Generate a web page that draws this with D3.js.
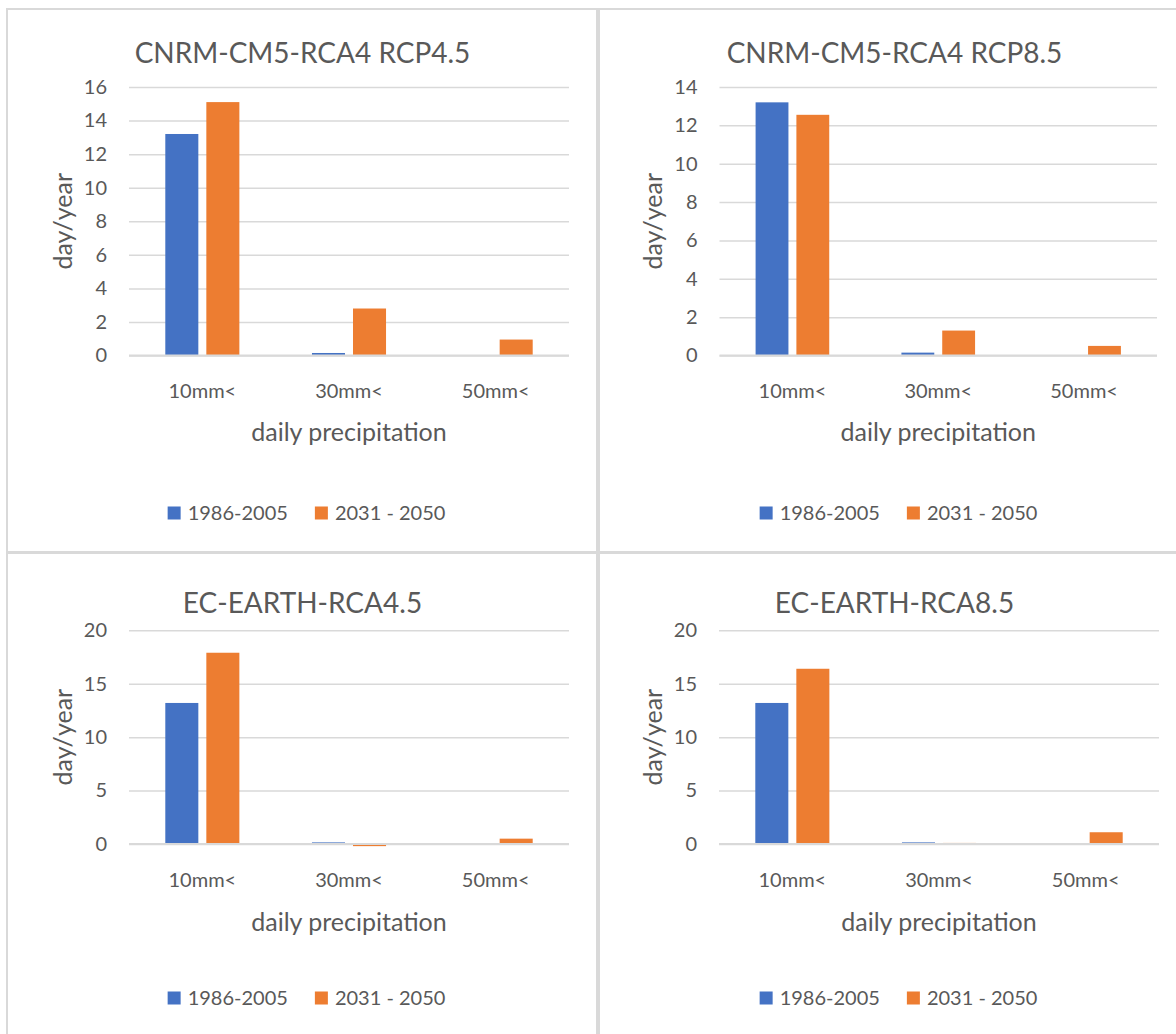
<!DOCTYPE html>
<html>
<head>
<meta charset="utf-8">
<script src="https://cdn.jsdelivr.net/npm/d3@7/dist/d3.min.js"></script>
<style>
  html, body { margin: 0; padding: 0; background: #fff; }
  svg text { font-family: Lato, "Open Sans", sans-serif; fill: #595959; }
</style>
</head>
<body>
<svg id="chart" width="1176" height="1034"></svg>
<script>
// Rainy-day frequency (days per year above each daily-precipitation threshold)
const categories = ["10mm<", "30mm<", "50mm<"];
const seriesNames = ["1986-2005", "2031 - 2050"];
const seriesColors = ["#4472C4", "#ED7D31"];

const titles = ["CNRM-CM5-RCA4 RCP4.5", "CNRM-CM5-RCA4 RCP8.5", "EC-EARTH-RCA4.5", "EC-EARTH-RCA8.5"];

const cnrm45Baseline = [13.2, 0.15, 0];
const cnrm45Future   = [15.1, 2.8, 0.95];
const cnrm85Baseline = [13.2, 0.15, 0];
const cnrm85Future   = [12.55, 1.3, 0.5];
const ec45Baseline   = [13.2, 0.15, 0];
const ec45Future     = [17.9, -0.2, 0.5];
const ec85Baseline   = [13.2, 0.15, 0];
const ec85Future     = [16.4, 0.1, 1.1];

const ticksCnrm45 = [0, 2, 4, 6, 8, 10, 12, 14, 16];
const ticksCnrm85 = [0, 2, 4, 6, 8, 10, 12, 14];
const ticksEc     = [0, 5, 10, 15, 20];

const yAxisTitle = "day/year";
const xAxisTitle = "daily precipitation";

const panelData = [
  { title: titles[0], series: [cnrm45Baseline, cnrm45Future], ticks: ticksCnrm45 },
  { title: titles[1], series: [cnrm85Baseline, cnrm85Future], ticks: ticksCnrm85 },
  { title: titles[2], series: [ec45Baseline, ec45Future], ticks: ticksEc },
  { title: titles[3], series: [ec85Baseline, ec85Future], ticks: ticksEc }
];

// Page layout of the four chart frames and their plot areas
const layout = [
  { box: [7, 9, 590, 544],   plot: [129, 87, 569, 355.5],   titleY: 53,  catY: 391, axisTitleY: 432, legendY: 513 },
  { box: [599, 9, 600, 544], plot: [719.5, 87, 1157, 355.5], titleY: 53,  catY: 391, axisTitleY: 432, legendY: 513 },
  { box: [7, 552, 590, 560], plot: [129, 630.3, 569, 844],   titleY: 603, catY: 880, axisTitleY: 922, legendY: 998 },
  { box: [599, 552, 600, 560], plot: [719, 630.3, 1159, 844], titleY: 603, catY: 880, axisTitleY: 922, legendY: 998 }
];

const svg = d3.select("#chart");
const grid = "#d9d9d9";

panelData.forEach((d, i) => {
  const L = layout[i];
  const [bx, by, bw, bh] = L.box;
  const [px0, py0, px1, py1] = L.plot;
  const g = svg.append("g");

  // chart frame
  g.append("rect")
    .attr("x", bx).attr("y", by).attr("width", bw).attr("height", bh)
    .attr("fill", "none").attr("stroke", grid).attr("stroke-width", 2);

  const y = d3.scaleLinear()
    .domain([d3.min(d.ticks), d3.max(d.ticks)])
    .range([py1, py0]);

  const x = d3.scaleBand()
    .domain(categories)
    .range([px0, px1])
    .paddingInner(0.495)
    .paddingOuter(0.2475);

  const xs = d3.scaleBand()
    .domain(seriesNames)
    .range([0, x.bandwidth()])
    .paddingInner(0.195);

  // value axis with gridlines
  const yAxis = g.append("g")
    .attr("transform", `translate(${px0},0)`)
    .call(d3.axisLeft(y).tickValues(d.ticks).tickSize(-(px1 - px0)).tickPadding(22));
  yAxis.select(".domain").remove();
  yAxis.selectAll(".tick line").attr("stroke", grid).attr("stroke-width", 1.5);
  yAxis.selectAll(".tick text").attr("font-size", 20).style("fill", "#595959");

  // bars
  d.series.forEach((vals, s) => {
    g.append("g").selectAll("rect")
      .data(vals.map((v, k) => ({ cat: categories[k], v })))
      .join("rect")
      .attr("x", e => x(e.cat) + xs(seriesNames[s]))
      .attr("width", xs.bandwidth())
      .attr("y", e => y(Math.max(0, e.v)))
      .attr("height", e => Math.abs(y(e.v) - y(0)))
      .attr("fill", seriesColors[s]);
  });

  // category axis
  const xAxis = g.append("g")
    .attr("transform", `translate(0,${y(0)})`)
    .call(d3.axisBottom(x).tickSize(0).tickPadding(0));
  xAxis.select(".domain").attr("stroke", grid).attr("stroke-width", 2)
    .attr("d", `M${px0},0H${px1}`);
  xAxis.selectAll(".tick text")
    .attr("y", L.catY - y(0)).attr("dy", "0.35em")
    .attr("font-size", 20).style("fill", "#595959");

  // chart title
  g.append("text")
    .attr("x", bx + 295.5).attr("y", L.titleY).attr("dy", "0.35em")
    .attr("text-anchor", "middle").attr("font-size", 28)
    .text(d.title);

  // axis titles
  g.append("text")
    .attr("x", (px0 + px1) / 2).attr("y", L.axisTitleY).attr("dy", "0.35em")
    .attr("text-anchor", "middle").attr("font-size", 25)
    .text(xAxisTitle);

  g.append("text")
    .attr("transform", `translate(${px0 - 66},${(py0 + py1) / 2}) rotate(-90)`)
    .attr("dy", "0.35em")
    .attr("text-anchor", "middle").attr("font-size", 25)
    .text(yAxisTitle);

  // legend
  const leg = g.append("g");
  let cx = 0;
  seriesNames.forEach((name, s) => {
    leg.append("rect")
      .attr("x", cx).attr("y", -6.5).attr("width", 13).attr("height", 13)
      .attr("fill", seriesColors[s]);
    const t = leg.append("text")
      .attr("x", cx + 20).attr("y", 0).attr("dy", "0.35em")
      .attr("font-size", 20).text(name);
    cx += 20 + t.node().getComputedTextLength() + 27;
  });
  const legW = cx - 27;
  leg.attr("transform", `translate(${bx + 299.5 - legW / 2},${L.legendY})`);
});
</script>
</body>
</html>
